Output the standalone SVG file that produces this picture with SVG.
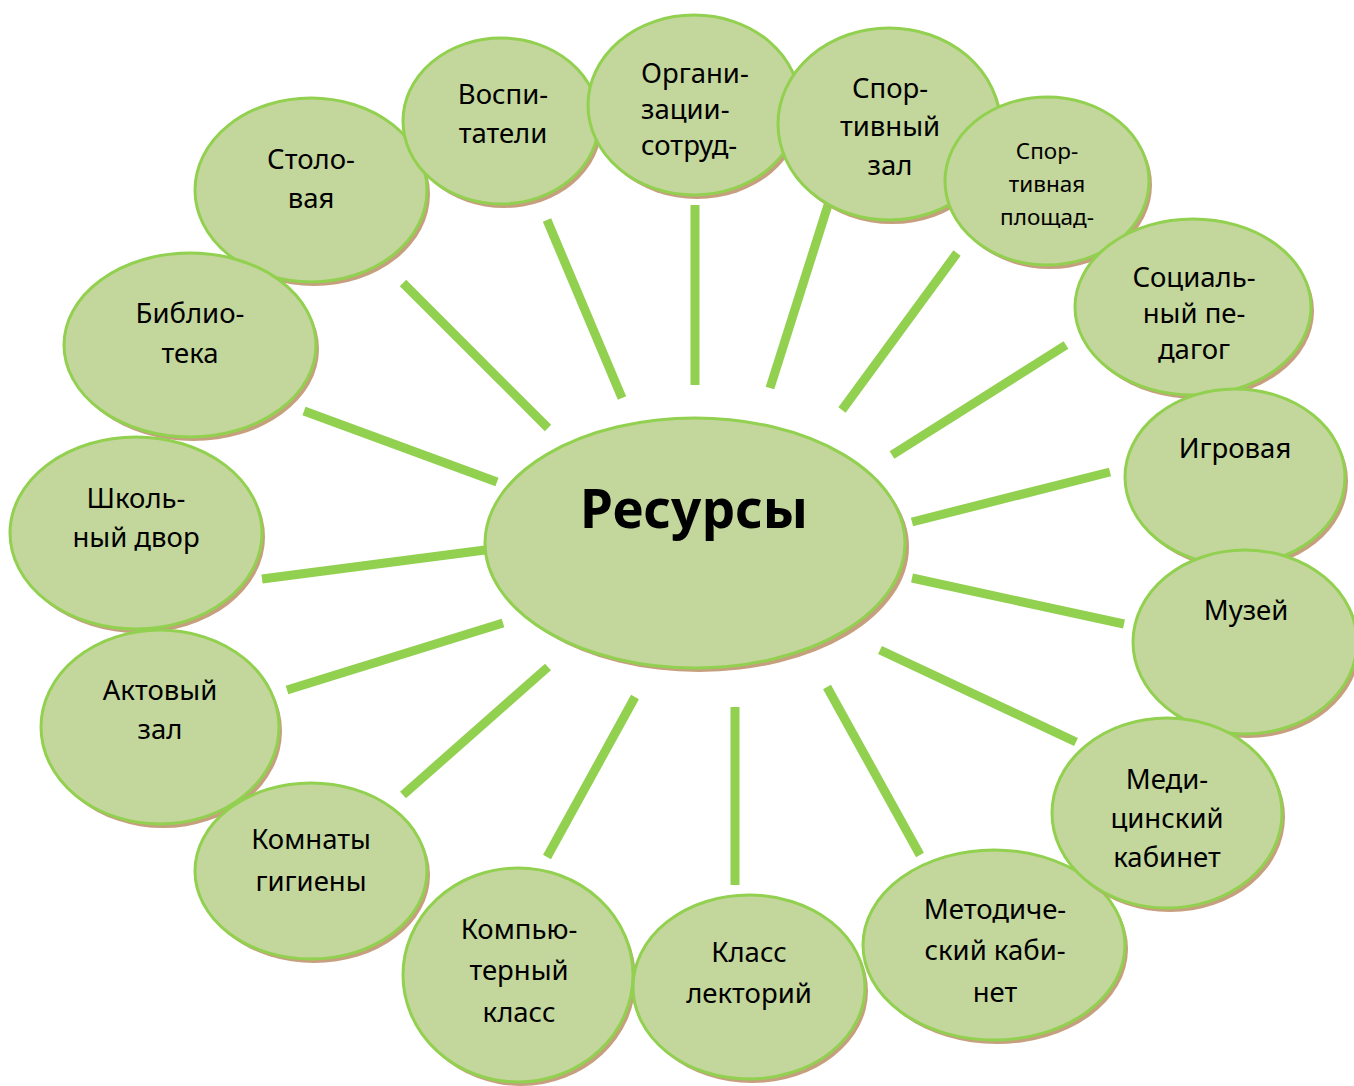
<svg xmlns="http://www.w3.org/2000/svg" width="1354" height="1086" viewBox="0 0 1354 1086">
<style>
.sh{fill:#c6a07e}
.el{fill:#c3d69b;stroke:#92d050;stroke-width:3}
.t{font-family:"Noto Sans","Liberation Sans",sans-serif;font-size:27.5px;fill:#000;text-anchor:middle}
.s{font-size:22.5px}
.big{font-size:53px;font-weight:bold}
.c line{stroke:#92d050;stroke-width:9}
</style>
<rect width="1354" height="1086" fill="#fff"/>
<g class="c" id="connectors">
<line x1="548" y1="428" x2="403" y2="283"/>
<line x1="622" y1="398" x2="547" y2="220"/>
<line x1="695" y1="385" x2="695" y2="205"/>
<line x1="770" y1="388" x2="828" y2="205"/>
<line x1="842" y1="410" x2="957" y2="253"/>
<line x1="892" y1="455" x2="1066" y2="345"/>
<line x1="912" y1="522" x2="1110" y2="472"/>
<line x1="912" y1="578" x2="1124" y2="624"/>
<line x1="880" y1="650" x2="1076" y2="742"/>
<line x1="827" y1="687" x2="920" y2="855"/>
<line x1="735" y1="707" x2="735" y2="885"/>
<line x1="635" y1="697" x2="547" y2="857"/>
<line x1="548" y1="667" x2="403" y2="795"/>
<line x1="503" y1="623" x2="287" y2="690"/>
<line x1="485" y1="550" x2="262" y2="579"/>
<line x1="497" y1="482" x2="304" y2="411"/>
</g>
<g id="n-stolovaya"><ellipse class="sh" cx="314" cy="194" rx="116" ry="92"/><ellipse class="el" cx="311" cy="190" rx="116" ry="92"/><text class="t" x="311" y="169">Столо-</text><text class="t" x="311" y="208">вая</text></g>
<g id="n-vospitateli"><ellipse class="sh" cx="504" cy="125" rx="98" ry="83"/><ellipse class="el" cx="501" cy="121" rx="98" ry="83"/><text class="t" x="503" y="104">Воспи-</text><text class="t" x="503" y="143">татели</text></g>
<g id="n-organizatsii"><ellipse class="sh" cx="697" cy="109" rx="106" ry="90"/><ellipse class="el" cx="694" cy="105" rx="106" ry="90"/><text class="t" x="641" y="83" style="text-anchor:start">Органи-</text><text class="t" x="641" y="119" style="text-anchor:start">зации-</text><text class="t" x="641" y="155" style="text-anchor:start">сотруд-</text></g>
<g id="n-sportzal"><ellipse class="sh" cx="892" cy="128" rx="111" ry="96"/><ellipse class="el" cx="889" cy="124" rx="111" ry="96"/><text class="t" x="890" y="98">Спор-</text><text class="t" x="890" y="136">тивный</text><text class="t" x="890" y="175">зал</text></g>
<g id="n-ploshchadka"><ellipse class="sh" cx="1050" cy="185" rx="102" ry="84"/><ellipse class="el" cx="1047" cy="181" rx="102" ry="84"/><text class="t s" x="1047" y="159">Спор-</text><text class="t s" x="1047" y="192">тивная</text><text class="t s" x="1047" y="225">площад-</text></g>
<g id="n-sotsped"><ellipse class="sh" cx="1196" cy="311" rx="118" ry="88"/><ellipse class="el" cx="1193" cy="307" rx="118" ry="88"/><text class="t" x="1194" y="287">Социаль-</text><text class="t" x="1194" y="323">ный пе-</text><text class="t" x="1194" y="359">дагог</text></g>
<g id="n-igrovaya"><ellipse class="sh" cx="1238" cy="481" rx="110" ry="88"/><ellipse class="el" cx="1235" cy="477" rx="110" ry="88"/><text class="t" x="1235" y="458">Игровая</text></g>
<g id="n-muzey"><ellipse class="sh" cx="1248" cy="646" rx="112" ry="92"/><ellipse class="el" cx="1245" cy="642" rx="112" ry="92"/><text class="t" x="1246" y="620">Музей</text></g>
<g id="n-metodich"><ellipse class="sh" cx="997" cy="949" rx="131" ry="95"/><ellipse class="el" cx="994" cy="945" rx="131" ry="95"/><text class="t" x="995" y="919">Методиче-</text><text class="t" x="995" y="960">ский каби-</text><text class="t" x="995" y="1002">нет</text></g>
<g id="n-medits"><ellipse class="sh" cx="1170" cy="817" rx="115" ry="95"/><ellipse class="el" cx="1167" cy="813" rx="115" ry="95"/><text class="t" x="1167" y="789">Меди-</text><text class="t" x="1167" y="828">цинский</text><text class="t" x="1167" y="867">кабинет</text></g>
<g id="n-biblioteka"><ellipse class="sh" cx="193" cy="349" rx="126" ry="92"/><ellipse class="el" cx="190" cy="345" rx="126" ry="92"/><text class="t" x="190" y="323">Библио-</text><text class="t" x="190" y="363">тека</text></g>
<g id="n-shkdvor"><ellipse class="sh" cx="139" cy="537" rx="126" ry="96"/><ellipse class="el" cx="136" cy="533" rx="126" ry="96"/><text class="t" x="136" y="508">Школь-</text><text class="t" x="136" y="547">ный двор</text></g>
<g id="n-aktzal"><ellipse class="sh" cx="163" cy="731" rx="119" ry="97"/><ellipse class="el" cx="160" cy="727" rx="119" ry="97"/><text class="t" x="160" y="700">Актовый</text><text class="t" x="160" y="739">зал</text></g>
<g id="n-komnaty"><ellipse class="sh" cx="314" cy="875" rx="116" ry="88"/><ellipse class="el" cx="311" cy="871" rx="116" ry="88"/><text class="t" x="311" y="849">Комнаты</text><text class="t" x="311" y="891">гигиены</text></g>
<g id="n-kompkl"><ellipse class="sh" cx="521" cy="979" rx="115" ry="107"/><ellipse class="el" cx="518" cy="975" rx="115" ry="107"/><text class="t" x="519" y="939">Компью-</text><text class="t" x="519" y="980">терный</text><text class="t" x="519" y="1022">класс</text></g>
<g id="n-klass"><ellipse class="sh" cx="752" cy="991" rx="116" ry="92"/><ellipse class="el" cx="749" cy="987" rx="116" ry="92"/><text class="t" x="749" y="962">Класс</text><text class="t" x="749" y="1003">лекторий</text></g>
<g id="n-resursy"><ellipse class="sh" cx="699" cy="547" rx="210" ry="125"/><ellipse class="el" cx="695" cy="543" rx="210" ry="125"/><text class="t big" x="694" y="528">Ресурсы</text></g>
</svg>
